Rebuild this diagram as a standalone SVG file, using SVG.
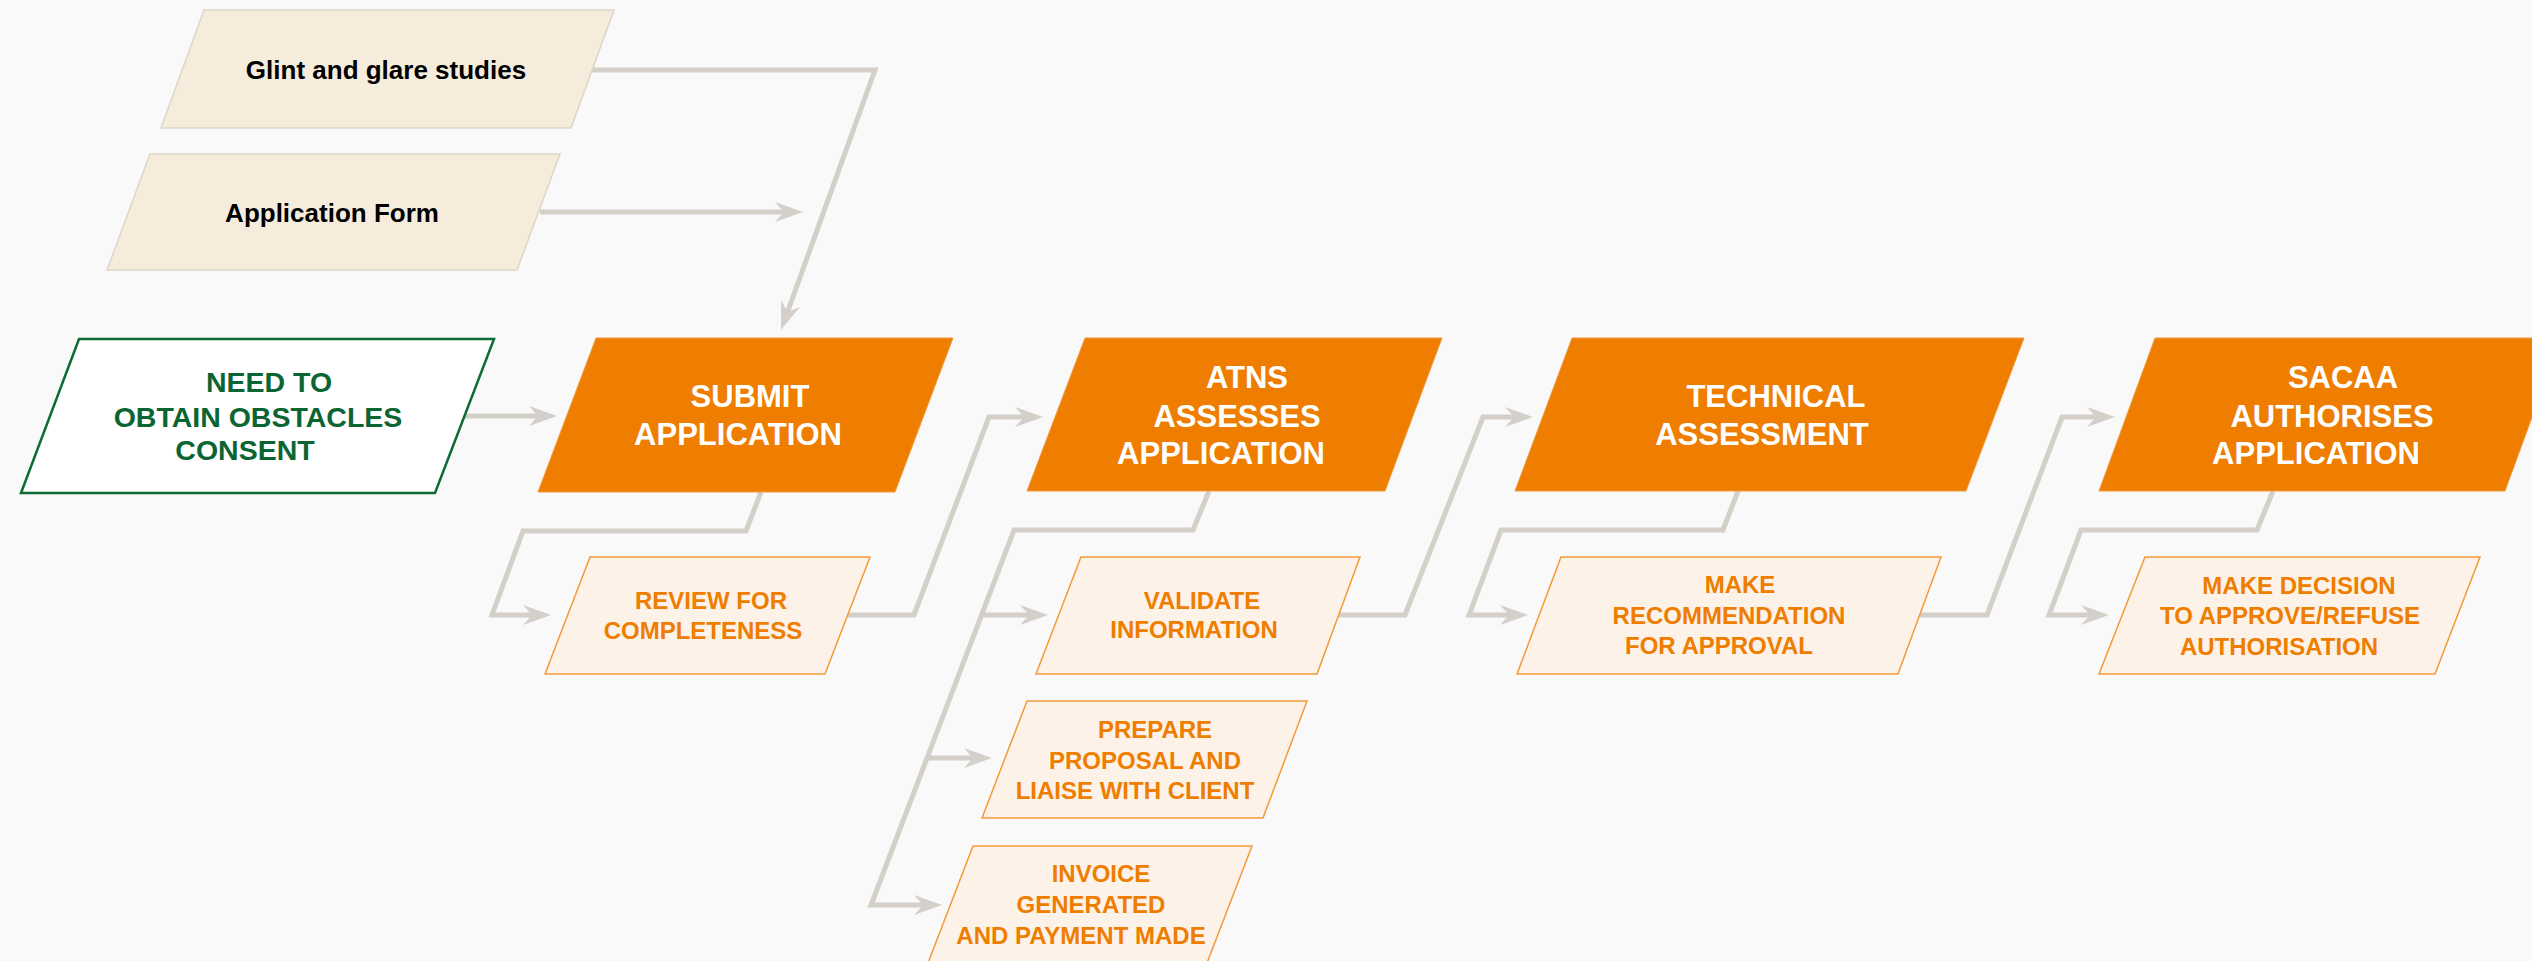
<svg xmlns="http://www.w3.org/2000/svg" width="2532" height="961" viewBox="0 0 2532 961">
<defs>
<marker id="arr" markerUnits="userSpaceOnUse" markerWidth="30" markerHeight="22" refX="9" refY="10" orient="auto">
<path d="M0,0 L28,10 L0,20 L9,10 Z" fill="#d4cfc9"/>
</marker>
<style>
.bg{fill:#f9f9f9}
.conn{fill:none;stroke:#d4cfc9;stroke-width:5;stroke-linejoin:miter}
.beige{fill:#f5ecdb;stroke:#ddd5c8;stroke-width:1.5}
.beige-t{font-family:"Liberation Sans",Arial,sans-serif;font-weight:bold;font-size:26px;fill:#000;text-anchor:middle}
.start{fill:#ffffff;stroke:#0d6b35;stroke-width:2.5}
.start-t{font-family:"Liberation Sans",Arial,sans-serif;font-weight:bold;font-size:28.5px;fill:#0b6532;text-anchor:middle}
.main{fill:#ee7d00;stroke:#f29a3c;stroke-width:1}
.main-t{font-family:"Liberation Sans",Arial,sans-serif;font-weight:bold;font-size:31px;fill:#ffffff;text-anchor:middle}
.sub{fill:#fdf2e7;stroke:#f39a3a;stroke-width:1.5}
.sub-t{font-family:"Liberation Sans",Arial,sans-serif;font-weight:bold;font-size:24px;fill:#ee7d00;text-anchor:middle}
</style>
</defs>
<rect class="bg" x="0" y="0" width="2532" height="961"/>

<g id="connectors">
<path class="conn" d="M592,70 L875,70 L787.5,312" marker-end="url(#arr)"/>
<path class="conn" d="M540,212 L784,212" marker-end="url(#arr)"/>
<path class="conn" d="M465,416 L538,416" marker-end="url(#arr)"/>
<path class="conn" d="M761,492 L746,531 L523,531 L492,615 L532,615" marker-end="url(#arr)"/>
<path class="conn" d="M848,615 L914,615 L989,417 L1024,417" marker-end="url(#arr)"/>
<path class="conn" d="M1209,491 L1193,530 L1014,530 L871,905 L923,905" marker-end="url(#arr)"/>
<path class="conn" d="M982,615 L1029,615" marker-end="url(#arr)"/>
<path class="conn" d="M927,758 L973,758" marker-end="url(#arr)"/>
<path class="conn" d="M1338,615 L1405,615 L1483,417 L1514,417" marker-end="url(#arr)"/>
<path class="conn" d="M1738,491 L1723,530 L1501,530 L1469,615 L1509,615" marker-end="url(#arr)"/>
<path class="conn" d="M1920,615 L1987,615 L2062,417 L2096,417" marker-end="url(#arr)"/>
<path class="conn" d="M2273,491 L2257,530 L2081,530 L2049,615 L2090,615" marker-end="url(#arr)"/>
</g>

<g id="glint">
<polygon class="beige" points="204,10 614,10 571,128 161,128"/>
<text class="beige-t" x="386" y="79">Glint and glare studies</text>
</g>
<g id="application-form">
<polygon class="beige" points="150,154 560,154 517,270 107,270"/>
<text class="beige-t" x="332" y="222">Application Form</text>
</g>
<g id="need-consent">
<polygon class="start" points="79,339 494,339 435,493 21,493"/>
<text class="start-t" x="269" y="392">NEED TO</text>
<text class="start-t" x="258" y="427">OBTAIN OBSTACLES</text>
<text class="start-t" x="245" y="460">CONSENT</text>
</g>
<g id="submit">
<polygon class="main" points="596,338 953,338 895,492 538,492"/>
<text class="main-t" x="750" y="407">SUBMIT</text>
<text class="main-t" x="738" y="445">APPLICATION</text>
</g>
<g id="atns">
<polygon class="main" points="1085,338 1442,338 1385,491 1027,491"/>
<text class="main-t" x="1247" y="388">ATNS</text>
<text class="main-t" x="1237" y="427">ASSESSES</text>
<text class="main-t" x="1221" y="464">APPLICATION</text>
</g>
<g id="technical">
<polygon class="main" points="1572,338 2024,338 1966,491 1515,491"/>
<text class="main-t" x="1776" y="407">TECHNICAL</text>
<text class="main-t" x="1762" y="445">ASSESSMENT</text>
</g>
<g id="sacaa">
<polygon class="main" points="2155,338 2561,338 2505,491 2099,491"/>
<text class="main-t" x="2343" y="388">SACAA</text>
<text class="main-t" x="2332" y="427">AUTHORISES</text>
<text class="main-t" x="2316" y="464">APPLICATION</text>
</g>
<g id="review">
<polygon class="sub" points="590,557 870,557 825,674 545,674"/>
<text class="sub-t" x="711" y="609">REVIEW FOR</text>
<text class="sub-t" x="703" y="639">COMPLETENESS</text>
</g>
<g id="validate">
<polygon class="sub" points="1081,557 1360,557 1317,674 1036,674"/>
<text class="sub-t" x="1202" y="609">VALIDATE</text>
<text class="sub-t" x="1194" y="638">INFORMATION</text>
</g>
<g id="prepare">
<polygon class="sub" points="1027,701 1307,701 1263,818 982,818"/>
<text class="sub-t" x="1155" y="738">PREPARE</text>
<text class="sub-t" x="1145" y="769">PROPOSAL AND</text>
<text class="sub-t" x="1135" y="799">LIAISE WITH CLIENT</text>
</g>
<g id="invoice">
<polygon class="sub" points="973,846 1252,846 1207,963 928,963"/>
<text class="sub-t" x="1101" y="882">INVOICE</text>
<text class="sub-t" x="1091" y="913">GENERATED</text>
<text class="sub-t" x="1081" y="944">AND PAYMENT MADE</text>
</g>
<g id="recommend">
<polygon class="sub" points="1561,557 1941,557 1898,674 1517,674"/>
<text class="sub-t" x="1740" y="593">MAKE</text>
<text class="sub-t" x="1729" y="624">RECOMMENDATION</text>
<text class="sub-t" x="1719" y="654">FOR APPROVAL</text>
</g>
<g id="decision">
<polygon class="sub" points="2145,557 2480,557 2435,674 2099,674"/>
<text class="sub-t" x="2299" y="594">MAKE DECISION</text>
<text class="sub-t" x="2290" y="624">TO APPROVE/REFUSE</text>
<text class="sub-t" x="2279" y="655">AUTHORISATION</text>
</g>
</svg>
